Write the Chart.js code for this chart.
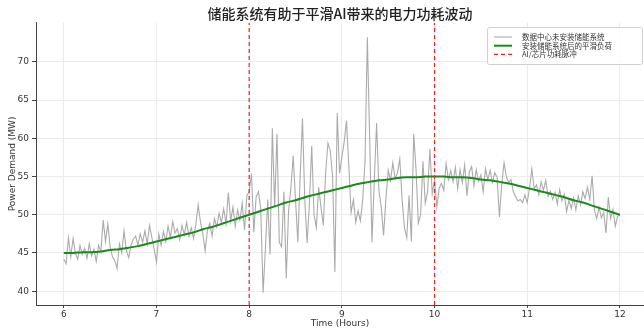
<!DOCTYPE html>
<html lang="zh">
<head>
  <meta charset="UTF-8" />
  <title>储能系统有助于平滑AI带来的电力功耗波动</title>
  <script src="https://cdn.jsdelivr.net/npm/chart.js"></script>
  <style>
    html, body { margin: 0; padding: 0; background: #fff; }
    #wrap { width: 644px; height: 331px; position: relative; }
  </style>
</head>
<body>
<div id="wrap"><canvas id="chart"></canvas></div>
<script>
  // 时间轴：6 点开始，每 0.025 小时一个采样点
  const startHour = 6;
  const rawStep = 0.025;
  const smoothStep = 0.1;

  // 数据中心未安装储能系统（原始功耗）
  const rawLoad = [
    44.2, 43.6, 47.0, 44.5, 46.9, 45.0, 44.2, 46.0, 44.8, 45.6, 44.3, 46.2, 44.6, 45.5, 43.9, 46.0, 45.2, 49.3, 46.5, 48.8,
    45.8, 44.5, 44.0, 43.0, 46.2, 45.0, 47.9, 45.3, 44.4, 46.0, 46.8, 47.2, 46.0, 47.5, 46.4, 47.9, 46.2, 48.6, 47.0, 45.5,
    43.8, 47.5, 46.0, 47.8, 46.5, 48.5, 47.0, 49.1, 47.6, 48.2, 46.8, 48.6, 47.4, 49.0, 47.2, 48.3, 46.9, 48.8, 51.3, 49.0,
    47.5, 45.3, 48.0, 48.9, 47.2, 49.5, 48.4, 50.2, 49.0, 50.8, 48.8, 52.9, 49.2, 51.0, 48.5, 50.6, 49.3, 51.5, 48.0, 52.5,
    53.0, 55.4, 47.7, 52.3, 53.0, 50.8, 39.8, 45.5, 52.0, 44.8, 61.3, 51.0, 60.6, 46.4, 45.8, 53.0, 41.7, 50.5, 53.5, 57.7,
    52.0, 46.4, 55.0, 62.6, 52.0, 46.3, 51.5, 59.0, 50.0, 48.3, 53.6, 51.0, 48.6, 55.5, 59.4, 58.4, 55.0, 42.5, 63.3, 55.4,
    57.5, 59.5, 62.3, 56.4, 50.3, 52.0, 49.0, 50.5, 49.2, 52.0, 57.0, 73.2, 60.0, 46.4, 54.5, 62.0, 53.2, 51.0, 47.3, 52.0,
    55.8, 54.5, 56.8, 54.7, 55.5, 57.3, 52.0, 48.3, 47.0, 52.5, 46.5, 60.6, 56.0, 48.9, 50.0, 57.0, 51.5, 53.0, 58.6, 52.8,
    54.5, 51.0, 53.5, 54.1, 53.2, 56.7, 54.6, 55.8, 54.3, 56.2, 53.4, 55.9, 54.2, 56.5, 52.5, 55.6, 56.3, 53.8, 55.9, 54.4,
    55.2, 53.0, 56.0, 54.6, 55.8, 54.2, 55.5, 54.9, 49.7, 54.0, 56.8, 55.0, 54.2, 54.6, 53.0, 52.4, 51.8, 52.0, 51.6, 52.6,
    51.6, 53.5, 56.0, 53.4, 53.9, 52.6, 54.3, 53.2, 54.5, 52.4, 53.1, 52.0, 52.9, 51.4, 53.3, 51.8, 52.7, 50.4, 51.9, 50.8,
    52.2, 50.6, 52.5, 51.3, 53.0, 52.1, 53.6, 52.0, 55.1, 50.6, 49.5, 51.0, 49.6, 50.3, 47.6, 52.3, 49.5, 50.7, 48.5, 49.8, 50.0
  ];

  // 安装储能系统后的平滑负荷（每 0.1 小时）
  const smoothLoad = [
    45.0, 45.0, 45.1, 45.1, 45.2, 45.4, 45.5, 45.7, 45.9, 46.2,
    46.5, 46.8, 47.1, 47.4, 47.7, 48.1, 48.4, 48.8, 49.2, 49.6,
    50.0, 50.4, 50.8, 51.2, 51.6, 51.9, 52.3, 52.6, 52.9, 53.2,
    53.5, 53.8, 54.1, 54.3, 54.5, 54.6, 54.8, 54.9, 54.9, 55.0,
    55.0, 55.0, 54.9, 54.9, 54.8, 54.6, 54.5, 54.3, 54.1, 53.8,
    53.5, 53.2, 52.9, 52.6, 52.3, 51.9, 51.6, 51.2, 50.8, 50.4,
    50.0
  ];

  // AI/芯片功耗脉冲时刻
  const pulseHours = [8, 10];

  const xTicks = [6, 7, 8, 9, 10, 11, 12];
  const yTicks = [40, 45, 50, 55, 60, 65, 70];
  const xMin = 5.7, xMax = 12.26;
  const yMin = 38.2, yMax = 75.1;

  const rawPoints = rawLoad.map((v, i) => ({ x: startHour + i * rawStep, y: v }));
  const smoothPoints = smoothLoad.map((v, i) => ({ x: startHour + i * smoothStep, y: v }));
  const pulsePoints = [];
  pulseHours.forEach((h, i) => {
    if (i > 0) pulsePoints.push({ x: (pulseHours[i - 1] + h) / 2, y: null });
    pulsePoints.push({ x: h, y: yMin }, { x: h, y: yMax });
  });

  const axisFont = { family: 'DejaVu Sans', size: 9 };

  // 图例：画在右上角，带边框
  const legendBox = {
    id: 'legendBox',
    afterDraw(chart) {
      const ctx = chart.ctx;
      const x = 487, y = 27, w = 155, h = 37;
      ctx.save();
      ctx.fillStyle = 'rgba(255,255,255,0.85)';
      ctx.strokeStyle = '#d0d0d0';
      ctx.lineWidth = 1;
      ctx.beginPath();
      ctx.roundRect(x + 0.5, y + 0.5, w, h, 2);
      ctx.fill();
      ctx.stroke();
      chart.data.datasets.forEach((ds, i) => {
        const ly = y + 10 + i * 8.7;
        ctx.strokeStyle = ds.borderColor;
        ctx.lineWidth = ds.borderWidth;
        ctx.setLineDash(ds.borderDash || []);
        ctx.beginPath();
        ctx.moveTo(x + 7, ly);
        ctx.lineTo(x + 25, ly);
        ctx.stroke();
        ctx.setLineDash([]);
        ctx.fillStyle = '#333';
        ctx.font = '7.5px "Noto Sans CJK SC"';
        ctx.textBaseline = 'middle';
        ctx.fillText(ds.label, x + 35, ly);
      });
      ctx.restore();
    }
  };

  new Chart(document.getElementById('chart'), {
    type: 'line',
    data: {
      datasets: [
        {
          label: '数据中心未安装储能系统',
          data: rawPoints,
          borderColor: '#ababab',
          borderWidth: 1.1,
          pointRadius: 0,
          tension: 0,
          order: 3
        },
        {
          label: '安装储能系统后的平滑负荷',
          data: smoothPoints,
          borderColor: '#1a8a1a',
          borderWidth: 2,
          pointRadius: 0,
          tension: 0.4,
          order: 2
        },
        {
          label: 'AI/芯片功耗脉冲',
          data: pulsePoints,
          borderColor: '#e0282a',
          borderWidth: 1.2,
          borderDash: [4, 3],
          pointRadius: 0,
          spanGaps: false,
          order: 1
        }
      ]
    },
    options: {
      responsive: true,
      maintainAspectRatio: false,
      animation: false,
      events: [],
      layout: { padding: { left: 0, right: 0, top: 0, bottom: 0 } },
      scales: {
        x: {
          type: 'linear',
          min: xMin,
          max: xMax,
          afterFit: s => { s.height = 26; },
          afterBuildTicks: s => { s.ticks = xTicks.map(v => ({ value: v })); },
          ticks: { font: axisFont, color: '#333', padding: 1, maxRotation: 0 },
          grid: { color: '#ebebeb', tickColor: '#444', tickLength: 3 },
          border: { color: '#444', width: 1 },
          title: { display: true, text: 'Time (Hours)', font: axisFont, color: '#333', padding: { top: 0, bottom: 2 } }
        },
        y: {
          min: yMin,
          max: yMax,
          afterFit: s => { s.width = 36; },
          afterBuildTicks: s => { s.ticks = yTicks.map(v => ({ value: v })); },
          ticks: { font: axisFont, color: '#333', padding: 3 },
          grid: { color: '#ebebeb', tickColor: '#444', tickLength: 4 },
          border: { color: '#444', width: 1 },
          title: { display: true, text: 'Power Demand (MW)', font: axisFont, color: '#333', padding: { top: 7, bottom: 0 } }
        }
      },
      plugins: {
        legend: { display: false },
        tooltip: { enabled: false },
        title: {
          display: true,
          fullSize: false,
          text: '储能系统有助于平滑AI带来的电力功耗波动',
          font: { family: 'Noto Sans CJK SC', size: 14, weight: '500' },
          color: '#222',
          padding: { top: 5, bottom: 1 }
        }
      }
    },
    plugins: [legendBox]
  });
</script>
</body>
</html>
